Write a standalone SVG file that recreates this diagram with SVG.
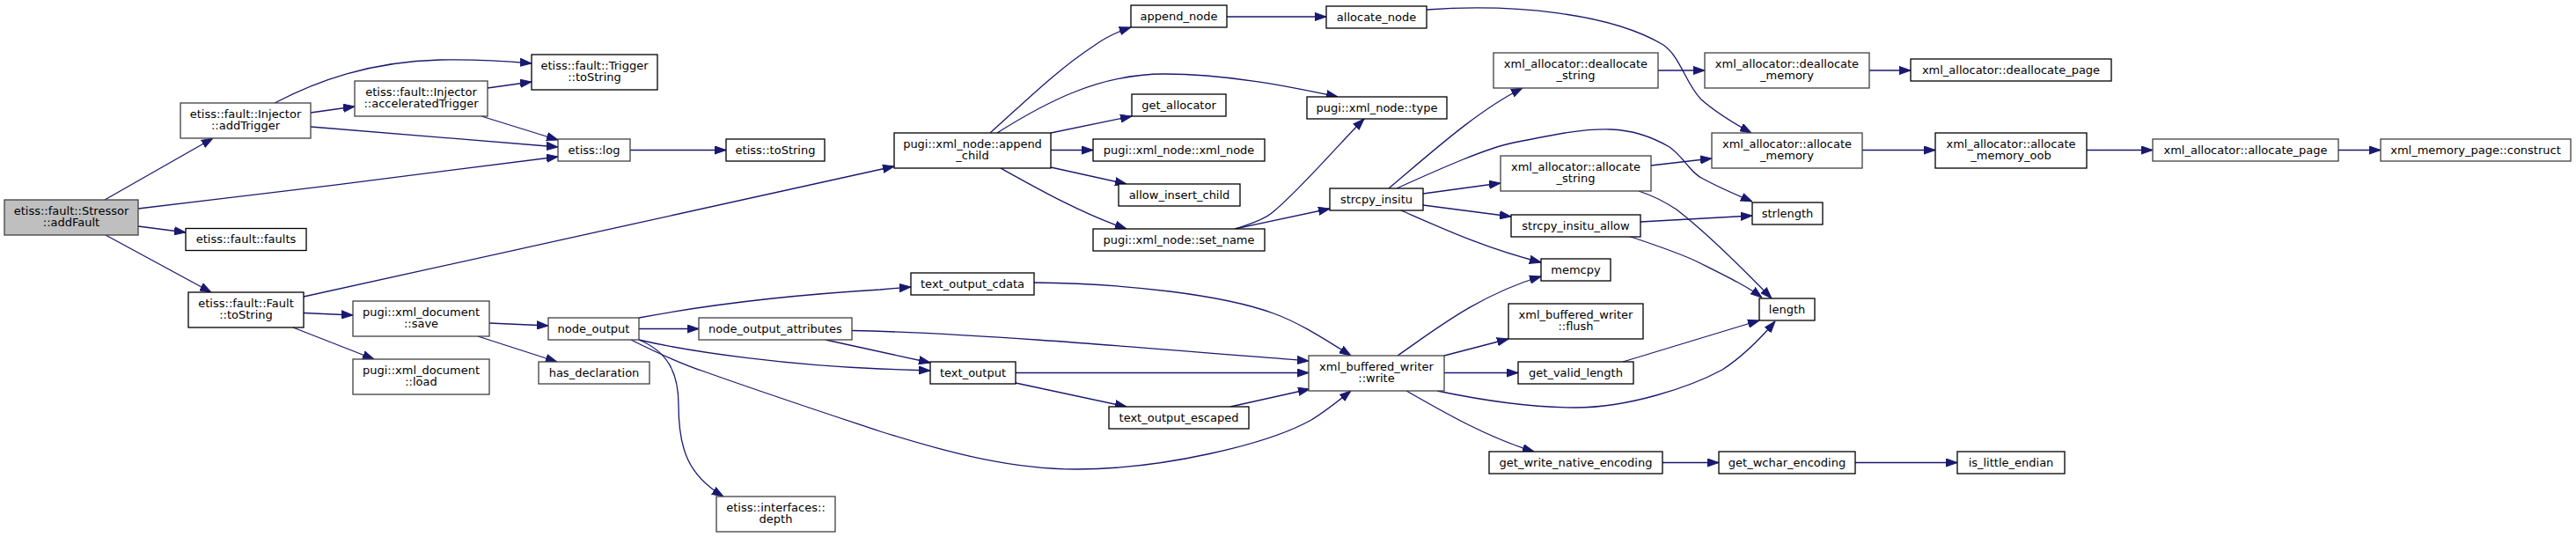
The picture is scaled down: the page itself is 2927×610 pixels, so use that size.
<svg xmlns="http://www.w3.org/2000/svg" width="2927" height="610" viewBox="0 0 2927 610">
<style>
.n rect{fill:#fff;stroke:#000;stroke-width:1.3}
.n.g rect{stroke:#404040}
.n.root rect{fill:#bfbfbf;stroke:#404040}
.n text{font-family:"DejaVu Sans","Liberation Sans",sans-serif;font-size:13px;fill:#000;text-anchor:middle}
#edges path{fill:none;stroke:#191970;stroke-width:1.3;marker-end:url(#ah)}
</style>
<defs>
<marker id="ah" viewBox="0 0 13 10" refX="13" refY="5" markerWidth="13" markerHeight="10" markerUnits="userSpaceOnUse" orient="auto"><path d="M0,0.4 L13,5 L0,9.6 z" fill="#191970" stroke="#191970" stroke-width="1"/></marker>
</defs>
<rect width="2927" height="610" fill="#fff"/>
<g id="edges">
<path d="M119,227 L242,157"/>
<path d="M157,237 C300,220 500,196 634,178"/>
<path d="M157,257 L211,264"/>
<path d="M120,267 L240,332"/>
<path d="M312,117 C360,92 420,70 500,68 C540,67 570,69 604,72"/>
<path d="M353,128 L403,121"/>
<path d="M353,144 L634,167"/>
<path d="M554,100 L604,93"/>
<path d="M547,132 L634,159"/>
<path d="M716,170.5 L825,170.5"/>
<path d="M345,337 L1016,189"/>
<path d="M345,355.5 L401,358"/>
<path d="M333,372 L425,408"/>
<path d="M556,367 L623,370"/>
<path d="M543,382 L633,411"/>
<path d="M726,361 C800,347 900,335 1000,329 L1035,326"/>
<path d="M726,373.5 L794,373.5"/>
<path d="M726,386 C790,401 900,415 1000,419 L1057,421"/>
<path d="M726,386 C760,400 771,425 771,460 C771,510 782,540 822,564"/>
<path d="M717,386 C745,400 770,412 800,422 C870,447 940,470 1000,490 C1080,515 1150,533 1223,533 C1320,533 1440,505 1490,477 C1505,468 1520,456 1535,444"/>
<path d="M938,386 L1057,412"/>
<path d="M968,375.5 C1100,378 1300,395 1487,410"/>
<path d="M1154,423.5 L1487,423.5"/>
<path d="M1154,435 L1280,462"/>
<path d="M1398,462 L1488,442"/>
<path d="M1175,321 C1280,322 1390,335 1447,356 C1475,366 1500,382 1535,404"/>
<path d="M1125,151 C1160,120 1200,80 1243,52 C1255,43 1270,36 1285,31"/>
<path d="M1133,151 C1190,115 1250,84 1323,84 C1390,84 1460,97 1520,110"/>
<path d="M1194,151 L1286,132"/>
<path d="M1194,170.5 L1242,170.5"/>
<path d="M1194,190 L1280,209"/>
<path d="M1137,191 C1180,215 1230,243 1280,260"/>
<path d="M1394,19 L1507,19"/>
<path d="M1621,11 C1720,4 1830,15 1890,51 C1910,65 1915,95 1933,113 C1950,128 1970,140 1990,151"/>
<path d="M1403,260 C1420,255 1435,250 1445,242 C1475,218 1520,165 1550,135"/>
<path d="M1403,260 L1511,237"/>
<path d="M1578,214 C1630,170 1680,125 1730,100"/>
<path d="M1587,214 C1640,190 1690,168 1720,162 C1770,152 1800,146 1830,147 C1860,148 1885,160 1897,167 C1915,180 1920,196 1935,203 C1955,214 1975,222 1991,229"/>
<path d="M1617,220 L1705,208"/>
<path d="M1617,233 L1717,246"/>
<path d="M1592,239 C1640,260 1690,283 1751,298"/>
<path d="M1588,404 C1630,375 1680,335 1751,314"/>
<path d="M1641,404 L1714,385"/>
<path d="M1641,423.5 L1725,423.5"/>
<path d="M1633,444 C1700,458 1750,463 1790,463 C1850,463 1920,440 1957,420 C1980,405 2000,385 2017,365"/>
<path d="M1598,444 C1640,468 1690,497 1743,513"/>
<path d="M1844,411 L1999,364"/>
<path d="M1889,525.5 L1953,525.5"/>
<path d="M2108,525.5 L2224,525.5"/>
<path d="M1884,80 L1937,80"/>
<path d="M2124,80 L2171,80"/>
<path d="M1876,188 L1945,180"/>
<path d="M2116,170.5 L2199,170.5"/>
<path d="M2371,170.5 L2446,170.5"/>
<path d="M2657,170.5 L2705,170.5"/>
<path d="M1864,252 L1991,245"/>
<path d="M1850,268 C1880,278 1910,288 1930,298 C1960,313 1985,325 2002,338"/>
<path d="M1862,217 C1880,223 1893,230 1905,238 C1940,265 1980,305 2013,339"/>
</g>
<g id="n_stressor" class="n root"><rect x="5" y="227" width="152" height="40"/><text x="81" y="243.5">etiss::fault::Stressor</text><text x="81" y="257">::addFault</text></g>
<g id="n_addTrigger" class="n g"><rect x="205" y="117" width="148" height="40"/><text x="279" y="133.5">etiss::fault::Injector</text><text x="279" y="147">::addTrigger</text></g>
<g id="n_faults" class="n"><rect x="211" y="259.5" width="137" height="25"/><text x="279.5" y="276">etiss::fault::faults</text></g>
<g id="n_faultToString" class="n"><rect x="214" y="332" width="131" height="40"/><text x="279.5" y="348.5">etiss::fault::Fault</text><text x="279.5" y="362">::toString</text></g>
<g id="n_accel" class="n g"><rect x="403" y="92" width="151" height="40"/><text x="478.5" y="108.5">etiss::fault::Injector</text><text x="478.5" y="122">::acceleratedTrigger</text></g>
<g id="n_save" class="n g"><rect x="401" y="342" width="155" height="40"/><text x="478.5" y="358.5">pugi::xml_document</text><text x="478.5" y="372">::save</text></g>
<g id="n_load" class="n g"><rect x="401" y="408" width="155" height="40"/><text x="478.5" y="424.5">pugi::xml_document</text><text x="478.5" y="438">::load</text></g>
<g id="n_triggerToString" class="n"><rect x="604" y="62" width="143" height="40"/><text x="675.5" y="78.5">etiss::fault::Trigger</text><text x="675.5" y="92">::toString</text></g>
<g id="n_log" class="n g"><rect x="634" y="158" width="82" height="25"/><text x="675" y="174.5">etiss::log</text></g>
<g id="n_etissToString" class="n"><rect x="825" y="158" width="112" height="25"/><text x="881" y="174.5">etiss::toString</text></g>
<g id="n_node_output" class="n g"><rect x="623" y="361" width="103" height="25"/><text x="674.5" y="377.5">node_output</text></g>
<g id="n_has_declaration" class="n g"><rect x="612" y="411" width="126" height="25"/><text x="675" y="427.5">has_declaration</text></g>
<g id="n_node_output_attributes" class="n g"><rect x="794" y="361" width="174" height="25"/><text x="881" y="377.5">node_output_attributes</text></g>
<g id="n_depth" class="n g"><rect x="814" y="564" width="135" height="40"/><text x="881.5" y="580.5">etiss::interfaces::</text><text x="881.5" y="594">depth</text></g>
<g id="n_append_child" class="n"><rect x="1016" y="151" width="178" height="40"/><text x="1105" y="167.5">pugi::xml_node::append</text><text x="1105" y="181">_child</text></g>
<g id="n_text_output_cdata" class="n"><rect x="1035" y="310" width="140" height="25"/><text x="1105" y="326.5">text_output_cdata</text></g>
<g id="n_text_output" class="n"><rect x="1057" y="411" width="97" height="25"/><text x="1105.5" y="427.5">text_output</text></g>
<g id="n_append_node" class="n"><rect x="1285" y="6" width="109" height="25"/><text x="1339.5" y="22.5">append_node</text></g>
<g id="n_get_allocator" class="n"><rect x="1286" y="107" width="107" height="25"/><text x="1339.5" y="123.5">get_allocator</text></g>
<g id="n_xml_node" class="n"><rect x="1242" y="158" width="195" height="25"/><text x="1339.5" y="174.5">pugi::xml_node::xml_node</text></g>
<g id="n_allow_insert_child" class="n"><rect x="1271" y="209" width="138" height="25"/><text x="1340" y="225.5">allow_insert_child</text></g>
<g id="n_set_name" class="n"><rect x="1242" y="260" width="195" height="25"/><text x="1339.5" y="276.5">pugi::xml_node::set_name</text></g>
<g id="n_text_output_escaped" class="n"><rect x="1260" y="462" width="159" height="25"/><text x="1339.5" y="478.5">text_output_escaped</text></g>
<g id="n_allocate_node" class="n"><rect x="1507" y="7" width="114" height="25"/><text x="1564" y="23.5">allocate_node</text></g>
<g id="n_type" class="n"><rect x="1485" y="110" width="159" height="25"/><text x="1564.5" y="126.5">pugi::xml_node::type</text></g>
<g id="n_strcpy_insitu" class="n"><rect x="1511" y="214" width="106" height="25"/><text x="1564" y="230.5">strcpy_insitu</text></g>
<g id="n_write" class="n g"><rect x="1487" y="404" width="154" height="40"/><text x="1564" y="420.5">xml_buffered_writer</text><text x="1564" y="434">::write</text></g>
<g id="n_deallocate_string" class="n g"><rect x="1697" y="60" width="187" height="40"/><text x="1790.5" y="76.5">xml_allocator::deallocate</text><text x="1790.5" y="90">_string</text></g>
<g id="n_allocate_string" class="n g"><rect x="1705" y="177" width="171" height="40"/><text x="1790.5" y="193.5">xml_allocator::allocate</text><text x="1790.5" y="207">_string</text></g>
<g id="n_strcpy_insitu_allow" class="n"><rect x="1717" y="244" width="147" height="25"/><text x="1790.5" y="260.5">strcpy_insitu_allow</text></g>
<g id="n_memcpy" class="n"><rect x="1751" y="294" width="79" height="25"/><text x="1790.5" y="310.5">memcpy</text></g>
<g id="n_flush" class="n"><rect x="1714" y="345" width="153" height="40"/><text x="1790.5" y="361.5">xml_buffered_writer</text><text x="1790.5" y="375">::flush</text></g>
<g id="n_get_valid_length" class="n"><rect x="1725" y="411" width="131" height="25"/><text x="1790.5" y="427.5">get_valid_length</text></g>
<g id="n_get_write_native_encoding" class="n"><rect x="1692" y="513" width="197" height="25"/><text x="1790.5" y="529.5">get_write_native_encoding</text></g>
<g id="n_deallocate_memory" class="n g"><rect x="1937" y="60" width="187" height="40"/><text x="2030.5" y="76.5">xml_allocator::deallocate</text><text x="2030.5" y="90">_memory</text></g>
<g id="n_allocate_memory" class="n g"><rect x="1945" y="151" width="171" height="40"/><text x="2030.5" y="167.5">xml_allocator::allocate</text><text x="2030.5" y="181">_memory</text></g>
<g id="n_strlength" class="n"><rect x="1991" y="230" width="80" height="25"/><text x="2031" y="246.5">strlength</text></g>
<g id="n_length" class="n"><rect x="1999" y="339" width="63" height="25"/><text x="2030.5" y="355.5">length</text></g>
<g id="n_get_wchar_encoding" class="n"><rect x="1953" y="513" width="155" height="25"/><text x="2030.5" y="529.5">get_wchar_encoding</text></g>
<g id="n_deallocate_page" class="n"><rect x="2171" y="67" width="228" height="25"/><text x="2285" y="83.5">xml_allocator::deallocate_page</text></g>
<g id="n_allocate_memory_oob" class="n"><rect x="2199" y="151" width="172" height="40"/><text x="2285" y="167.5">xml_allocator::allocate</text><text x="2285" y="181">_memory_oob</text></g>
<g id="n_is_little_endian" class="n"><rect x="2224" y="513" width="122" height="25"/><text x="2285" y="529.5">is_little_endian</text></g>
<g id="n_allocate_page" class="n g"><rect x="2446" y="158" width="211" height="25"/><text x="2551.5" y="174.5">xml_allocator::allocate_page</text></g>
<g id="n_construct" class="n g"><rect x="2705" y="158" width="216" height="25"/><text x="2813" y="174.5">xml_memory_page::construct</text></g>
</svg>
